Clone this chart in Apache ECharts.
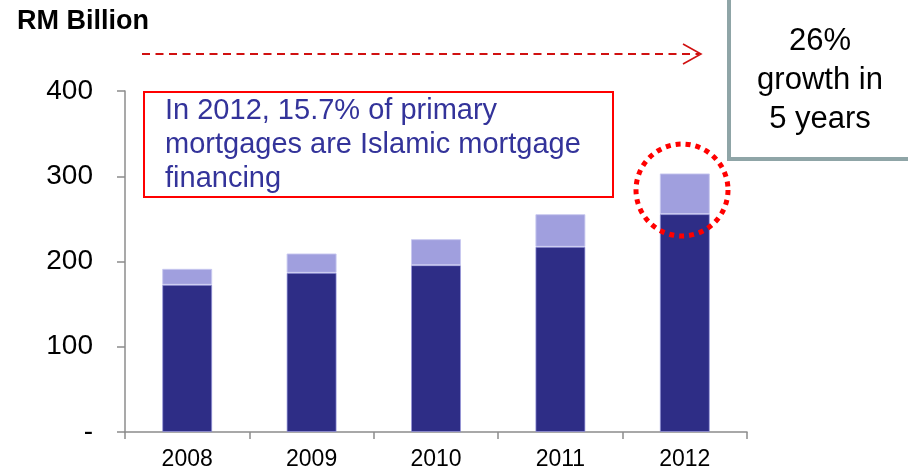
<!DOCTYPE html>
<html>
<head>
<meta charset="utf-8">
<script src="https://cdn.jsdelivr.net/npm/echarts@6/dist/echarts.min.js"></script>
<style>
  html, body { margin: 0; padding: 0; background: #fff; }
  #chart { width: 908px; height: 473px; }
</style>
</head>
<body>
<div id="chart"></div>
<script>
// Mortgage financing outstanding, RM billion
const years = ['2008', '2009', '2010', '2011', '2012'];
const conventional = [172.6, 186.7, 195.7, 217.2, 255.6];
const islamic = [18.8, 22.7, 30.5, 38.3, 47.7];
const yTicks = [0, 100, 200, 300, 400];

const FONT = '"Liberation Sans", Arial, sans-serif';
const chart = echarts.init(document.getElementById('chart'), null, { renderer: 'canvas' });

chart.setOption({
  animation: false,
  backgroundColor: '#ffffff',
  grid: { left: 125, right: 161, top: 91, bottom: 41, containLabel: false },
  xAxis: {
    type: 'category',
    data: years,
    boundaryGap: true,
    axisLine: { lineStyle: { color: '#8c8c8c', width: 1.5 } },
    axisTick: { show: true, length: 7, alignWithLabel: false, lineStyle: { color: '#8c8c8c', width: 1.5 } },
    axisLabel: { color: '#000', fontSize: 23, fontFamily: FONT, margin: 16 }
  },
  yAxis: {
    type: 'value',
    min: yTicks[0],
    max: yTicks[yTicks.length - 1],
    interval: 100,
    splitLine: { show: false },
    axisLine: { show: true, lineStyle: { color: '#8c8c8c', width: 1.5 } },
    axisTick: { show: true, length: 8, lineStyle: { color: '#8c8c8c', width: 1.5 } },
    axisLabel: {
      color: '#000', fontSize: 28, fontFamily: FONT, margin: 32,
      formatter: v => (v === 0 ? '-' : String(v))
    }
  },
  series: [
    {
      name: 'Conventional',
      type: 'bar',
      stack: 'total',
      barWidth: 50,
      data: conventional,
      itemStyle: { color: '#2e2d86', borderColor: 'rgba(150,150,220,0.7)', borderWidth: 1 }
    },
    {
      name: 'Islamic',
      type: 'bar',
      stack: 'total',
      barWidth: 50,
      data: islamic,
      itemStyle: { color: '#a09fde', borderColor: 'rgba(200,200,240,0.9)', borderWidth: 1 }
    }
  ],
  graphic: [
    {
      type: 'text', left: 17, top: 8,
      style: { text: 'RM Billion', fill: '#000', font: 'bold 27px ' + FONT }
    },
    // dashed growth arrow
    {
      type: 'line',
      shape: { x1: 142, y1: 54, x2: 699, y2: 54 },
      style: { stroke: '#d01010', lineWidth: 2, lineDash: [8, 5.5] }
    },
    {
      type: 'polyline',
      shape: { points: [[683, 44], [701, 54], [683, 64]] },
      style: { stroke: '#d01010', lineWidth: 1.6, fill: null }
    },
    // growth callout box
    {
      type: 'rect',
      shape: { x: 729, y: -20, width: 300, height: 179 },
      style: { fill: '#fff', stroke: '#8fa5a7', lineWidth: 4 }
    },
    {
      type: 'text', x: 820, y: 80,
      style: {
        text: '26%\ngrowth in\n5 years', fill: '#000', font: '31px ' + FONT,
        align: 'center', verticalAlign: 'middle', lineHeight: 39
      }
    },
    // note box
    {
      type: 'rect',
      shape: { x: 144, y: 92, width: 469, height: 105 },
      style: { fill: '#fff', stroke: '#ff0000', lineWidth: 2 }
    },
    {
      type: 'text', x: 165, y: 145,
      style: {
        text: 'In 2012, 15.7% of primary\nmortgages are Islamic mortgage\nfinancing',
        fill: '#33339a', font: '29px ' + FONT,
        align: 'left', verticalAlign: 'middle', lineHeight: 34
      }
    },
    // dotted highlight around 2012
    {
      type: 'circle',
      shape: { cx: 682, cy: 190, r: 46 },
      style: { fill: null, stroke: '#ff0000', lineWidth: 5, lineDash: [5, 5] },
      z: 100
    }
  ]
});
</script>
</body>
</html>
